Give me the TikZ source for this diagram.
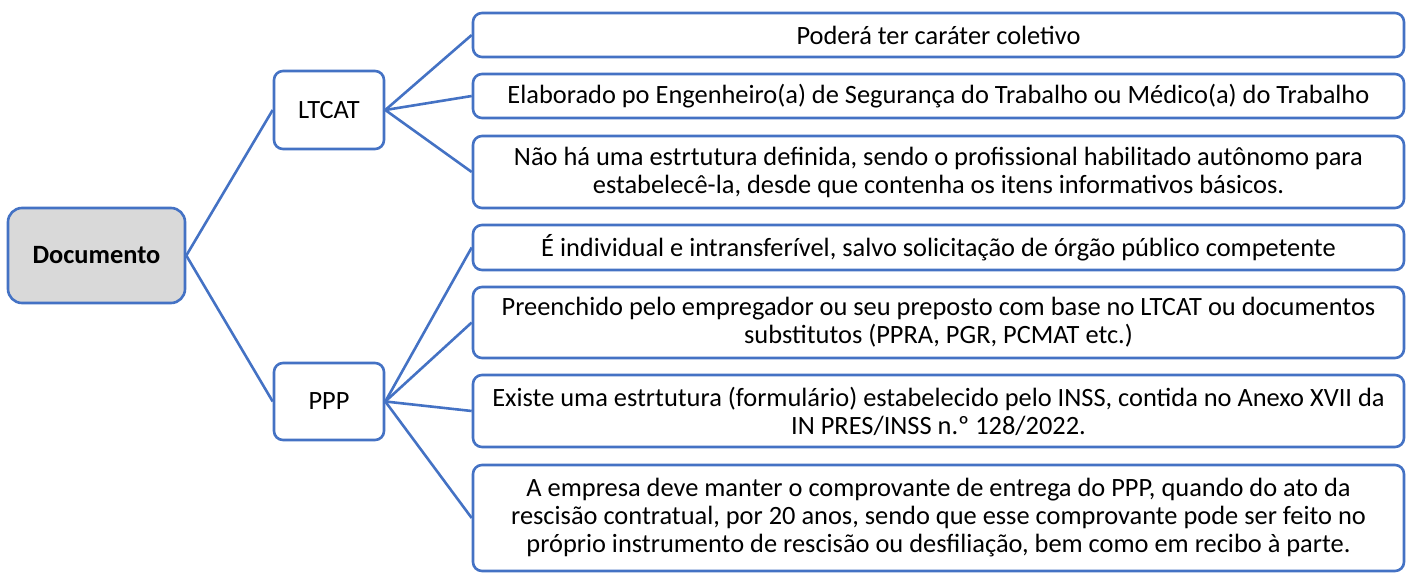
\documentclass[tikz,border=0pt]{standalone}
\usepackage{fontspec}
\setmainfont{Carlito}
\usepackage{tikz}

\definecolor{smblue}{HTML}{4472C4}
\definecolor{smgray}{HTML}{D9D9D9}

\begin{document}
\begin{tikzpicture}[x=1pt,y=-1pt,
                    every node/.style={font=\fontsize{26.4}{28}\selectfont},
                    box/.style={draw=smblue, line width=2.6pt, fill=white,
                                rounded corners=9pt, align=center, inner sep=0pt},
                    info/.style={box, minimum width=931pt},
                    link/.style={draw=smblue, line width=2.6pt}]

  \useasboundingbox (0,0) rectangle (1411,573);

  \node[box, fill=smgray, rounded corners=14pt,
        minimum width=177pt, minimum height=95pt] (doc) at (96.5,255.5) {\textbf{Documento}};

  \node[box, minimum width=110pt, minimum height=78pt] (ltcat) at (329,110) {LTCAT};
  \node[box, minimum width=110pt, minimum height=77pt] (ppp)   at (329,401.5) {PPP};

  \node[info, minimum height=44pt] (l1) at (938.5,35) {Poderá ter caráter coletivo};
  \node[info, minimum height=44pt] (l2) at (938.5,96)
    {Elaborado po Engenheiro(a) de Segurança do Trabalho ou Médico(a) do Trabalho};
  \node[info, minimum height=72pt] (l3) at (938.5,172)
    {Não há uma estrtutura definida, sendo o profissional habilitado autônomo para\\
     estabelecê-la, desde que contenha os itens informativos básicos.};

  \node[info, minimum height=45pt] (p1) at (938.5,247.5)
    {É individual e intransferível, salvo solicitação de órgão público competente};
  \node[info, minimum height=71pt] (p2) at (938.5,322.5)
    {Preenchido pelo empregador ou seu preposto com base no LTCAT ou documentos\\
     substitutos (PPRA, PGR, PCMAT etc.)};
  \node[info, minimum height=72pt] (p3) at (938.5,411)
    {Existe uma estrtutura (formulário) estabelecido pelo INSS, contida no Anexo XVII da\\
     IN PRES/INSS n.º 128/2022.};
  \node[info, minimum height=106pt] (p4) at (938.5,518)
    {A empresa deve manter o comprovante de entrega do PPP, quando do ato da\\
     rescisão contratual, por 20 anos, sendo que esse comprovante pode ser feito no\\
     próprio instrumento de rescisão ou desfiliação, bem como em recibo à parte.};

  \path[link] (doc.east) edge (ltcat.west)
                         edge (ppp.west)
              (ltcat.east) edge (l1.west)
                           edge (l2.west)
                           edge (l3.west)
              (ppp.east) edge (p1.west)
                         edge (p2.west)
                         edge (p3.west)
                         edge (p4.west);
\end{tikzpicture}
\end{document}
